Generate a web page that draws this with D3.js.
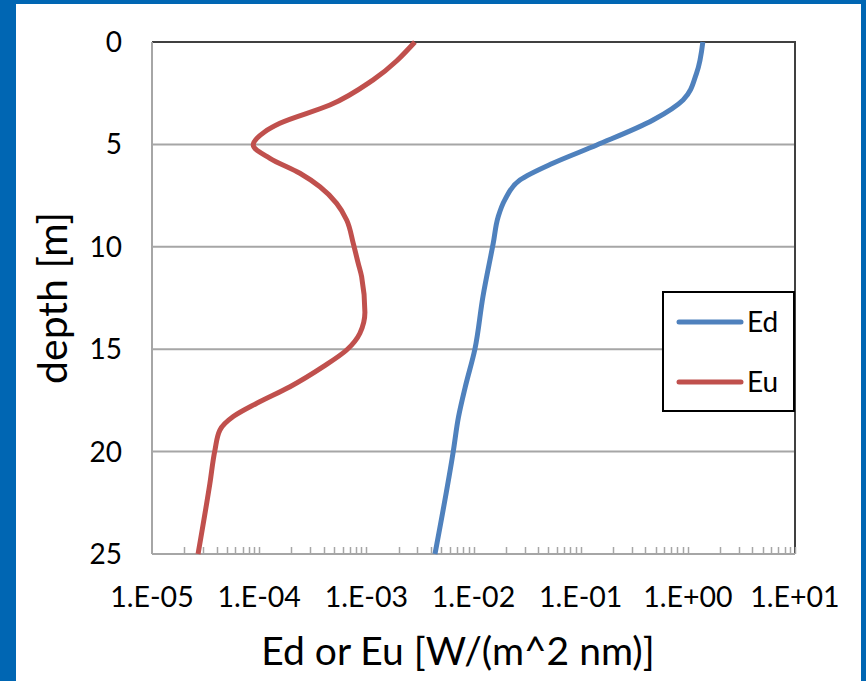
<!DOCTYPE html>
<html>
<head>
<meta charset="utf-8">
<script src="https://cdn.jsdelivr.net/npm/d3@7"></script>
<style>
  html, body { margin: 0; padding: 0; background: #0066b3; }
  svg { display: block; }
  text { font-family: Lato, "Open Sans", sans-serif; fill: #000; }
</style>
</head>
<body>
<script>
// Downwelling irradiance Ed vs depth
const edDepth = [0, 1.53, 2.83, 3.81, 5.03, 5.92, 6.74, 7.71, 8.53, 9.83, 12.43, 15, 16.83, 18.3, 20, 25];
const edValue = [1.38, 1.205, 0.903, 0.474, 0.1415, 0.055, 0.0271, 0.0196, 0.0170, 0.01528, 0.01225, 0.0103, 0.00839, 0.00725, 0.00647, 0.00437];

// Upwelling irradiance Eu vs depth
const euDepth = [0, 1.86, 3.08, 3.97, 4.38, 5.03, 5.68, 6.41, 7.07, 7.88, 8.69, 9.83, 10.8, 11.46, 13.2, 14.22, 15.04, 15.85, 16.83, 17.64, 18.29, 18.95, 19.92, 21.55, 25];
const euValue = [0.00284, 0.00115, 0.000457, 0.000156, 0.000113, 0.000088, 0.000126, 0.00024, 0.000369, 0.000528, 0.000655, 0.000755, 0.000839, 0.000904, 0.00097, 0.000871, 0.000655, 0.000396, 0.000194, 0.000095, 0.0000573, 0.000043, 0.0000387, 0.0000347, 0.0000269];

const depthTicks = [0, 5, 10, 15, 20, 25];
const xTickValues = [1e-5, 1e-4, 1e-3, 1e-2, 1e-1, 1e0, 1e1];
const xTickLabels = ["1.E-05", "1.E-04", "1.E-03", "1.E-02", "1.E-01", "1.E+00", "1.E+01"];

const seriesNames = ["Ed", "Eu"];
const seriesColors = ["#4f81bd", "#c0504d"];

const W = 866, H = 681;
const plot = { left: 152, right: 795, top: 42, bottom: 554 };

const svg = d3.select("body").append("svg").attr("width", W).attr("height", H);

// white card on the blue frame
svg.append("rect").attr("x", 16).attr("y", 4).attr("width", 845).attr("height", H - 4).attr("fill", "#fff");

const x = d3.scaleLog().domain([1e-5, 1e1]).range([plot.left, plot.right]);
const y = d3.scaleLinear().domain([0, 25]).range([plot.top, plot.bottom]);

// horizontal gridlines
svg.append("g").selectAll("line").data(depthTicks.slice(1, -1)).join("line")
  .attr("x1", plot.left).attr("x2", plot.right)
  .attr("y1", d => y(d)).attr("y2", d => y(d))
  .attr("stroke", "#a6a6a6").attr("stroke-width", 2);

// frame: top and right darker, left and bottom axis gray
svg.append("line").attr("x1", plot.left).attr("x2", plot.right + 1).attr("y1", plot.top).attr("y2", plot.top)
  .attr("stroke", "#404040").attr("stroke-width", 2);
svg.append("line").attr("x1", plot.right).attr("x2", plot.right).attr("y1", plot.top).attr("y2", plot.bottom)
  .attr("stroke", "#404040").attr("stroke-width", 2);
svg.append("line").attr("x1", plot.left).attr("x2", plot.left).attr("y1", plot.top).attr("y2", plot.bottom)
  .attr("stroke", "#a6a6a6").attr("stroke-width", 2);

// minor ticks on log axis (2..10 per decade), pointing inward
const minor = [];
for (let e = -5; e < 1; e++) for (let k = 2; k <= 10; k++) minor.push(k * Math.pow(10, e));
svg.append("g").selectAll("line").data(minor).join("line")
  .attr("x1", d => Math.round(x(d)) + 0.5).attr("x2", d => Math.round(x(d)) + 0.5)
  .attr("y1", plot.bottom).attr("y2", plot.bottom - 7)
  .attr("stroke", "#a6a6a6").attr("stroke-width", 1.5);
svg.append("line").attr("x1", plot.left).attr("x2", plot.right).attr("y1", plot.bottom).attr("y2", plot.bottom)
  .attr("stroke", "#a6a6a6").attr("stroke-width", 2);

// tick labels
svg.append("g").selectAll("text").data(depthTicks).join("text")
  .attr("x", 122).attr("y", d => y(d)).attr("dy", "0.36em")
  .attr("text-anchor", "end").attr("font-size", 28).text(d => d);
svg.append("g").selectAll("text").data(xTickValues).join("text")
  .attr("x", d => x(d)).attr("y", 607)
  .attr("text-anchor", "middle").attr("font-size", 28.5).text((d, i) => xTickLabels[i]);

// axis titles
svg.append("text").attr("x", 458).attr("y", 665).attr("text-anchor", "middle")
  .attr("font-size", 39).text("Ed or Eu [W/(m^2 nm)]");
svg.append("text").attr("transform", `translate(67,${(plot.top + plot.bottom) / 2}) rotate(-90)`)
  .attr("text-anchor", "middle").attr("font-size", 41).text("depth [m]");

// profiles: depth increases monotonically, so a y-monotone spline keeps them smooth
const line = d3.line().x(d => x(d[0])).y(d => y(d[1])).curve(d3.curveMonotoneY);
const series = [
  d3.zip(edValue, edDepth),
  d3.zip(euValue, euDepth)
];
svg.append("g").selectAll("path").data(series).join("path")
  .attr("d", line).attr("fill", "none")
  .attr("stroke", (d, i) => seriesColors[i]).attr("stroke-width", 5)
  .attr("stroke-linejoin", "round");

// legend
const lg = svg.append("g");
lg.append("rect").attr("x", 663).attr("y", 292).attr("width", 131).attr("height", 119)
  .attr("fill", "#fff").attr("stroke", "#000").attr("stroke-width", 2);
seriesNames.forEach((name, i) => {
  const cy = 322 + i * 60;
  lg.append("line").attr("x1", 679).attr("x2", 741).attr("y1", cy).attr("y2", cy)
    .attr("stroke", seriesColors[i]).attr("stroke-width", 5).attr("stroke-linecap", "round");
  lg.append("text").attr("x", 747).attr("y", cy).attr("dy", "0.36em")
    .attr("font-size", 28).text(name);
});
</script>
</body>
</html>
